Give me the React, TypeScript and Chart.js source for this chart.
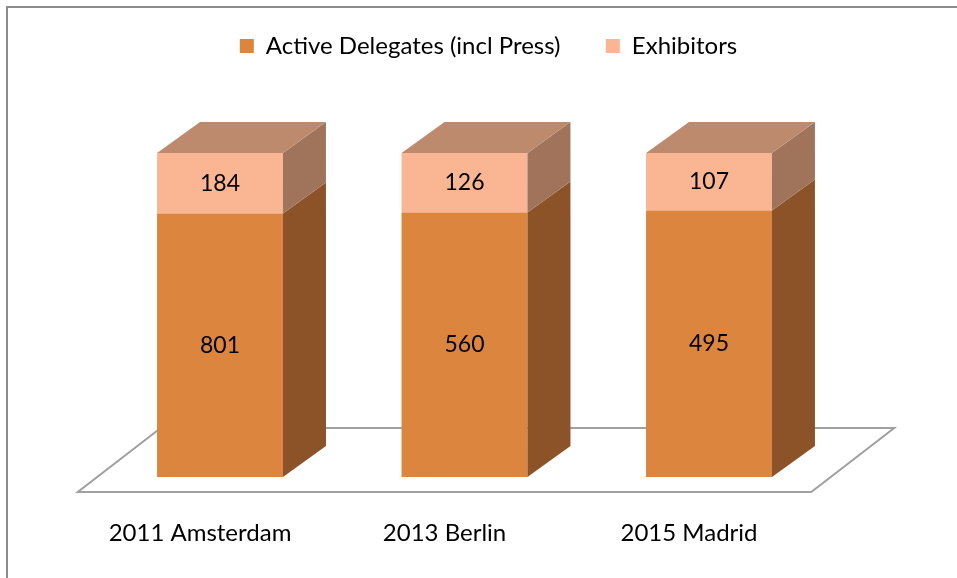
import React, { useEffect, useRef } from 'react';
import { Chart, registerables } from 'chart.js';

Chart.register(...registerables);

// ---- data ----
const categories = ['2011 Amsterdam', '2013 Berlin', '2015 Madrid'];
const seriesNames = ['Active Delegates (incl Press)', 'Exhibitors'];
const delegates = [801, 560, 495];
const exhibitors = [184, 126, 107];

// 100% stacked: each column scaled to its own total
const totals = categories.map((_, i) => delegates[i] + exhibitors[i]);
const delegatesPct = delegates.map((v, i) => (v / totals[i]) * 100);
const exhibitorsPct = exhibitors.map((v, i) => (v / totals[i]) * 100);
const rawSeries = [delegates, exhibitors];

// ---- style ----
const FONT = 'Lato';
const FONT_SIZE = 24;
const VALUE_FONT_SIZE = 23;
const FRONT_COLORS = ['#DC853E', '#FAB693'];
const SIDE_COLORS = ['#8C5328', '#A0745B'];
const TOP_COLOR = '#BE8A6E';
const DEPTH_X = 43;
const DEPTH_Y = -31;
const FLOOR_FRONT = { x: -20, y: 15 };
const FLOOR_BACK = { x: 63, y: -49 };

const threeD = {
  id: 'threeD',
  beforeDraw(chart: any) {
    const ctx = chart.ctx;
    ctx.save();
    ctx.strokeStyle = '#8C8C8C';
    ctx.lineWidth = 2;
    ctx.beginPath();
    ctx.moveTo(7, chart.height + 5);
    ctx.lineTo(7, 7);
    ctx.lineTo(chart.width + 5, 7);
    ctx.stroke();
    ctx.restore();
  },
  beforeDatasetsDraw(chart: any) {
    const ctx = chart.ctx;
    const { left, right } = chart.chartArea;
    const base = chart.scales.y.getPixelForValue(0);
    ctx.save();
    ctx.strokeStyle = '#A0A0A0';
    ctx.lineWidth = 2;
    ctx.fillStyle = '#FFFFFF';
    ctx.beginPath();
    ctx.moveTo(left + FLOOR_FRONT.x, base + FLOOR_FRONT.y);
    ctx.lineTo(right + FLOOR_FRONT.x, base + FLOOR_FRONT.y);
    ctx.lineTo(right + FLOOR_BACK.x, base + FLOOR_BACK.y);
    ctx.lineTo(left + FLOOR_BACK.x, base + FLOOR_BACK.y);
    ctx.closePath();
    ctx.fill();
    ctx.stroke();
    ctx.restore();
  },
  afterDatasetsDraw(chart: any) {
    const ctx = chart.ctx;
    const n = chart.data.datasets.length;
    ctx.save();
    for (let di = 0; di < n; di++) {
      const meta = chart.getDatasetMeta(di);
      meta.data.forEach((el: any) => {
        const { x, y, base, width } = el.getProps(['x', 'y', 'base', 'width'], true);
        const l = x - width / 2;
        const r = x + width / 2;
        const top = Math.min(y, base);
        const bot = Math.max(y, base);
        ctx.fillStyle = SIDE_COLORS[di];
        ctx.beginPath();
        ctx.moveTo(r, top);
        ctx.lineTo(r + DEPTH_X, top + DEPTH_Y);
        ctx.lineTo(r + DEPTH_X, bot + DEPTH_Y);
        ctx.lineTo(r, bot);
        ctx.closePath();
        ctx.fill();
        if (di === n - 1) {
          ctx.fillStyle = TOP_COLOR;
          ctx.beginPath();
          ctx.moveTo(l, top);
          ctx.lineTo(l + DEPTH_X, top + DEPTH_Y);
          ctx.lineTo(r + DEPTH_X, top + DEPTH_Y);
          ctx.lineTo(r, top);
          ctx.closePath();
          ctx.fill();
        }
      });
    }
    ctx.fillStyle = '#000000';
    ctx.font = `${VALUE_FONT_SIZE}px ${FONT}`;
    ctx.textAlign = 'center';
    ctx.textBaseline = 'middle';
    for (let di = 0; di < n; di++) {
      const meta = chart.getDatasetMeta(di);
      meta.data.forEach((el: any, i: number) => {
        const { x, y, base } = el.getProps(['x', 'y', 'base'], true);
        ctx.fillText(String(rawSeries[di][i]), x, (y + base) / 2);
      });
    }
    ctx.restore();
  },
};

export default function App() {
  const ref = useRef<HTMLCanvasElement>(null);
  useEffect(() => {
    if (!ref.current) return;
    const chart = new Chart(ref.current, {
      type: 'bar',
      data: {
        labels: categories,
        datasets: [
          {
            label: seriesNames[0],
            data: delegatesPct,
            backgroundColor: FRONT_COLORS[0],
            borderWidth: 0,
            barPercentage: 0.515,
            categoryPercentage: 1,
          },
          {
            label: seriesNames[1],
            data: exhibitorsPct,
            backgroundColor: FRONT_COLORS[1],
            borderWidth: 0,
            barPercentage: 0.515,
            categoryPercentage: 1,
          },
        ],
      },
      options: {
        animation: false,
        responsive: false,
        devicePixelRatio: 1,
        layout: { padding: { left: 20, right: 0, top: -11.3, bottom: -11 } },
        plugins: {
          tooltip: { enabled: false },
          legend: {
            position: 'top',
            labels: {
              font: { family: FONT, size: FONT_SIZE },
              color: '#000000',
              boxWidth: 14,
              boxHeight: 14,
              padding: 45.3,
            },
          },
        },
        scales: {
          x: {
            stacked: true,
            grid: { display: false, drawTicks: false },
            border: { display: false },
            ticks: {
              font: { family: FONT, size: FONT_SIZE },
              color: '#000000',
              padding: 41.6,
              labelOffset: -20,
              maxRotation: 0,
              autoSkip: false,
            },
          },
          y: {
            stacked: true,
            min: 0,
            max: 126.2,
            ticks: { display: false },
            grid: { display: false, drawTicks: false },
            border: { display: false },
            afterFit: (s: any) => {
              s.width = 77.75;
            },
          },
          yRight: {
            type: 'linear',
            position: 'right',
            ticks: { display: false },
            grid: { display: false, drawTicks: false },
            border: { display: false },
            afterFit: (s: any) => {
              s.width = 125.75;
            },
          },
        },
      } as any,
      plugins: [threeD],
    });
    return () => chart.destroy();
  }, []);
  return (
    <div style={{ position: 'absolute', left: 0, top: 0, width: 957, height: 578 }}>
      <canvas ref={ref} width={957} height={578} />
    </div>
  );
}
